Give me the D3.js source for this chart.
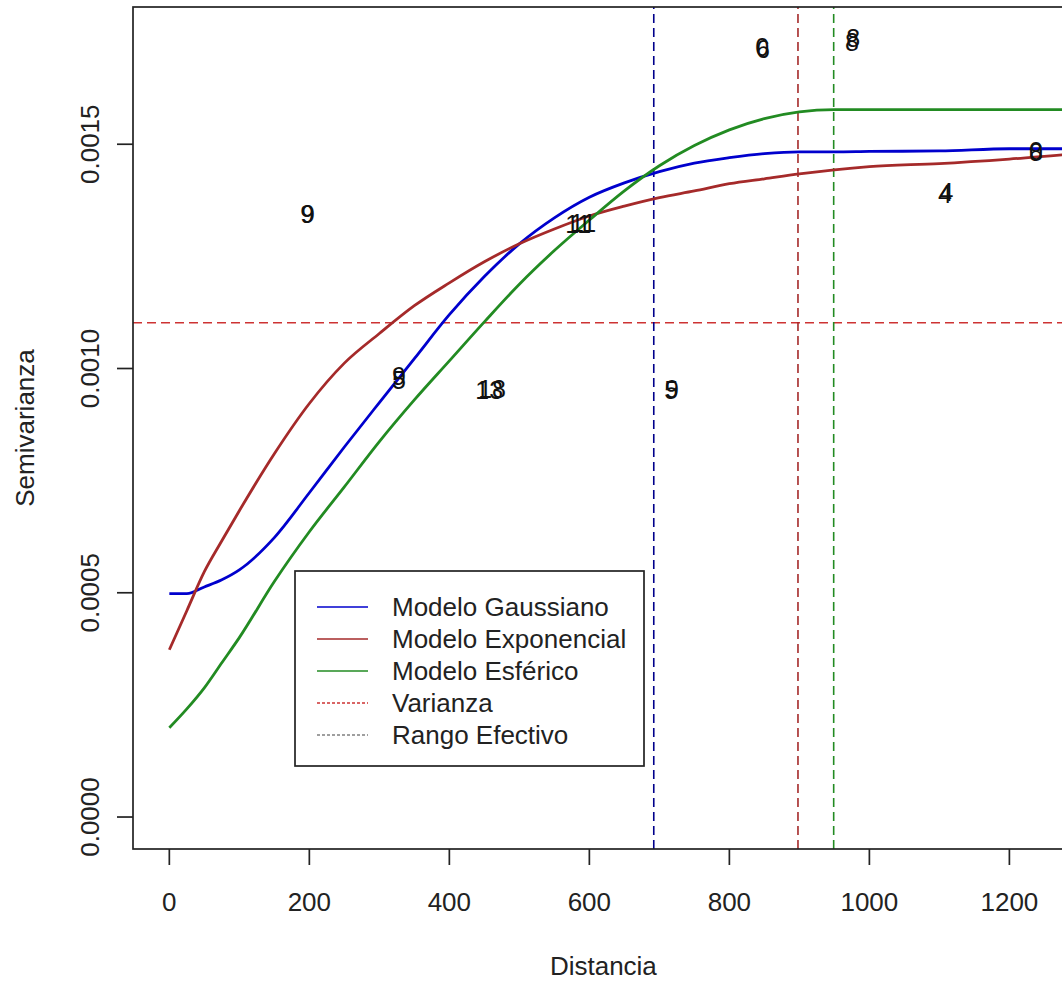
<!DOCTYPE html>
<html>
<head>
<meta charset="utf-8">
<script src="https://cdn.jsdelivr.net/npm/d3@7"></script>
<style>
  body { margin: 0; background: #fff; }
  svg { display: block; font-family: "Liberation Sans", Arial, sans-serif; }
</style>
</head>
<body>
<script>
// distances where the fitted models were read
var dist = [0, 25, 50, 75, 100, 150, 200, 250, 300, 350, 400, 450, 500, 550, 600, 650, 700, 750, 800, 850, 900, 950, 1000, 1100, 1200, 1300, 1350];
var gauss = [0.000498, 0.000498, 0.000513, 0.000529, 0.000551, 0.000623, 0.000723, 0.000825, 0.000924, 0.001022, 0.001120, 0.001205, 0.001278, 0.001336, 0.001382, 0.001414, 0.001439, 0.001458, 0.001470, 0.001479, 0.001483, 0.001483, 0.001484, 0.001485, 0.001490, 0.001490, 0.001490];
var expo = [0.000373, 0.000460, 0.000547, 0.000616, 0.000683, 0.000810, 0.000922, 0.001012, 0.001078, 0.001140, 0.001191, 0.001238, 0.001278, 0.001311, 0.001340, 0.001362, 0.001381, 0.001396, 0.001412, 0.001423, 0.001434, 0.001443, 0.001450, 0.001457, 0.001467, 0.001479, 0.001482];
var spher = [0.000199, 0.000241, 0.000288, 0.000344, 0.000400, 0.000525, 0.000636, 0.000736, 0.000837, 0.000930, 0.001017, 0.001104, 0.001188, 0.001263, 0.001331, 0.001396, 0.001452, 0.001497, 0.001532, 0.001557, 0.001572, 0.001577, 0.001577, 0.001577, 0.001577, 0.001577, 0.001577];

// empirical semivariogram labels (number of pairs), two overlapping sets
var ptDistA = [197, 328, 457, 584, 717, 848, 975, 1108, 1238];
var ptGamA = [0.001345, 0.000975, 0.000953, 0.001323, 0.000953, 0.001713, 0.001728, 0.001389, 0.001483];
var ptLabA = ['9', '5', '13', '11', '5', '6', '8', '4', '8'];
var ptDistB = [198, 328, 461, 591, 718, 847, 977, 1110, 1238];
var ptGamB = [0.001345, 0.000984, 0.000955, 0.001325, 0.000955, 0.001717, 0.001737, 0.001394, 0.001485];
var ptLabB = ['9', '9', '18', '11', '9', '0', '8', '4', '0'];

var varianza = 0.001102;
var rangos = [692, 898, 949];

var xTicks = [0, 200, 400, 600, 800, 1000, 1200];
var yTicks = [0, 0.0005, 0.0010, 0.0015];

var legendNames = ['Modelo Gaussiano', 'Modelo Exponencial', 'Modelo Esférico', 'Varianza', 'Rango Efectivo'];

var cBlue = '#0000cd', cRed = '#a52a2a', cGreen = '#228b22';

var W = 1062, H = 986;
var pL = 133, pR = 1113, pT = 7, pB = 849;

var svg = d3.select('body').append('svg').attr('width', W).attr('height', H);

var x = d3.scaleLinear().domain([-51.9, 1348]).range([pL, pR]);
var y = d3.scaleLinear().domain([-0.0000713, 0.001806]).range([pB, pT]);

svg.append('clipPath').attr('id', 'plotclip')
  .append('rect').attr('x', pL).attr('y', pT).attr('width', pR - pL).attr('height', pB - pT);

var plot = svg.append('g').attr('clip-path', 'url(#plotclip)');

// reference lines
plot.append('line')
  .attr('x1', pL).attr('x2', pR)
  .attr('y1', y(varianza)).attr('y2', y(varianza))
  .attr('stroke', '#cd3333').attr('stroke-width', 1.6).attr('stroke-dasharray', '9,5');

var rangoCol = ['#00008b', cRed, cGreen];
plot.selectAll('line.rango').data(rangos).enter().append('line')
  .attr('class', 'rango')
  .attr('x1', function(d) { return x(d); }).attr('x2', function(d) { return x(d); })
  .attr('y1', pB).attr('y2', pT)
  .attr('stroke', function(d, i) { return rangoCol[i]; })
  .attr('stroke-width', 1.6).attr('stroke-dasharray', '9,5');

// model curves
var line = d3.line()
  .curve(d3.curveMonotoneX)
  .x(function(d) { return x(d[0]); })
  .y(function(d) { return y(d[1]); });

[[gauss, cBlue], [expo, cRed], [spher, cGreen]].forEach(function(s) {
  plot.append('path')
    .datum(d3.zip(dist, s[0]))
    .attr('d', line)
    .attr('fill', 'none')
    .attr('stroke', s[1])
    .attr('stroke-width', 2.8)
    .attr('stroke-linejoin', 'round');
});

// number labels
function labels(dx, gy, lab) {
  plot.selectAll(null).data(lab).enter().append('text')
    .attr('x', function(d, i) { return x(dx[i]); })
    .attr('y', function(d, i) { return y(gy[i]); })
    .attr('text-anchor', 'middle')
    .attr('dominant-baseline', 'central')
    .attr('font-size', 25)
    .attr('fill', '#111')
    .text(function(d) { return d; });
}
labels(ptDistA, ptGamA, ptLabA);
labels(ptDistB, ptGamB, ptLabB);

// frame
svg.append('rect')
  .attr('x', pL).attr('y', pT).attr('width', pR - pL).attr('height', pB - pT)
  .attr('fill', 'none').attr('stroke', '#222').attr('stroke-width', 1.7);

// x axis
var xa = svg.append('g');
xa.selectAll('line.tk').data(xTicks).enter().append('line')
  .attr('class', 'tk')
  .attr('x1', function(d) { return x(d); }).attr('x2', function(d) { return x(d); })
  .attr('y1', pB).attr('y2', pB + 16)
  .attr('stroke', '#222').attr('stroke-width', 1.7);
xa.selectAll('text').data(xTicks).enter().append('text')
  .attr('x', function(d) { return x(d); })
  .attr('y', 911)
  .attr('text-anchor', 'middle')
  .attr('font-size', 26)
  .attr('fill', '#222')
  .text(function(d) { return d; });

// y axis
var ya = svg.append('g');
ya.selectAll('line.tk').data(yTicks).enter().append('line')
  .attr('class', 'tk')
  .attr('x1', pL).attr('x2', pL - 16)
  .attr('y1', function(d) { return y(d); }).attr('y2', function(d) { return y(d); })
  .attr('stroke', '#222').attr('stroke-width', 1.7);
ya.selectAll('text').data(yTicks).enter().append('text')
  .attr('transform', function(d) { return 'translate(99,' + y(d) + ') rotate(-90)'; })
  .attr('text-anchor', 'middle')
  .attr('font-size', 26)
  .attr('fill', '#222')
  .text(function(d) { return d3.format('.4f')(d); });

// axis titles
svg.append('text').attr('x', x(620)).attr('y', 975)
  .attr('text-anchor', 'middle').attr('font-size', 26).attr('fill', '#222')
  .text('Distancia');
svg.append('text').attr('transform', 'translate(34,428) rotate(-90)')
  .attr('text-anchor', 'middle').attr('font-size', 26).attr('fill', '#222')
  .text('Semivarianza');

// legend
var lg = svg.append('g');
lg.append('rect').attr('x', 295).attr('y', 571).attr('width', 349).attr('height', 195)
  .attr('fill', '#fff').attr('stroke', '#222').attr('stroke-width', 1.7);
var lgCol = [cBlue, cRed, cGreen, '#cd3333', '#808080'];
var lgDash = [null, null, null, '3,2', '3,2'];
var rows = lg.selectAll('g.row').data(legendNames).enter().append('g')
  .attr('class', 'row')
  .attr('transform', function(d, i) { return 'translate(0,' + (607 + i * 32) + ')'; });
rows.append('line').attr('x1', 317).attr('x2', 368).attr('y1', 0).attr('y2', 0)
  .attr('stroke', function(d, i) { return lgCol[i]; })
  .attr('stroke-width', 1.6)
  .attr('stroke-dasharray', function(d, i) { return lgDash[i]; });
rows.append('text').attr('x', 392).attr('y', 0)
  .attr('dominant-baseline', 'central')
  .attr('font-size', 26).attr('fill', '#222')
  .text(function(d) { return d; });
</script>
</body>
</html>
